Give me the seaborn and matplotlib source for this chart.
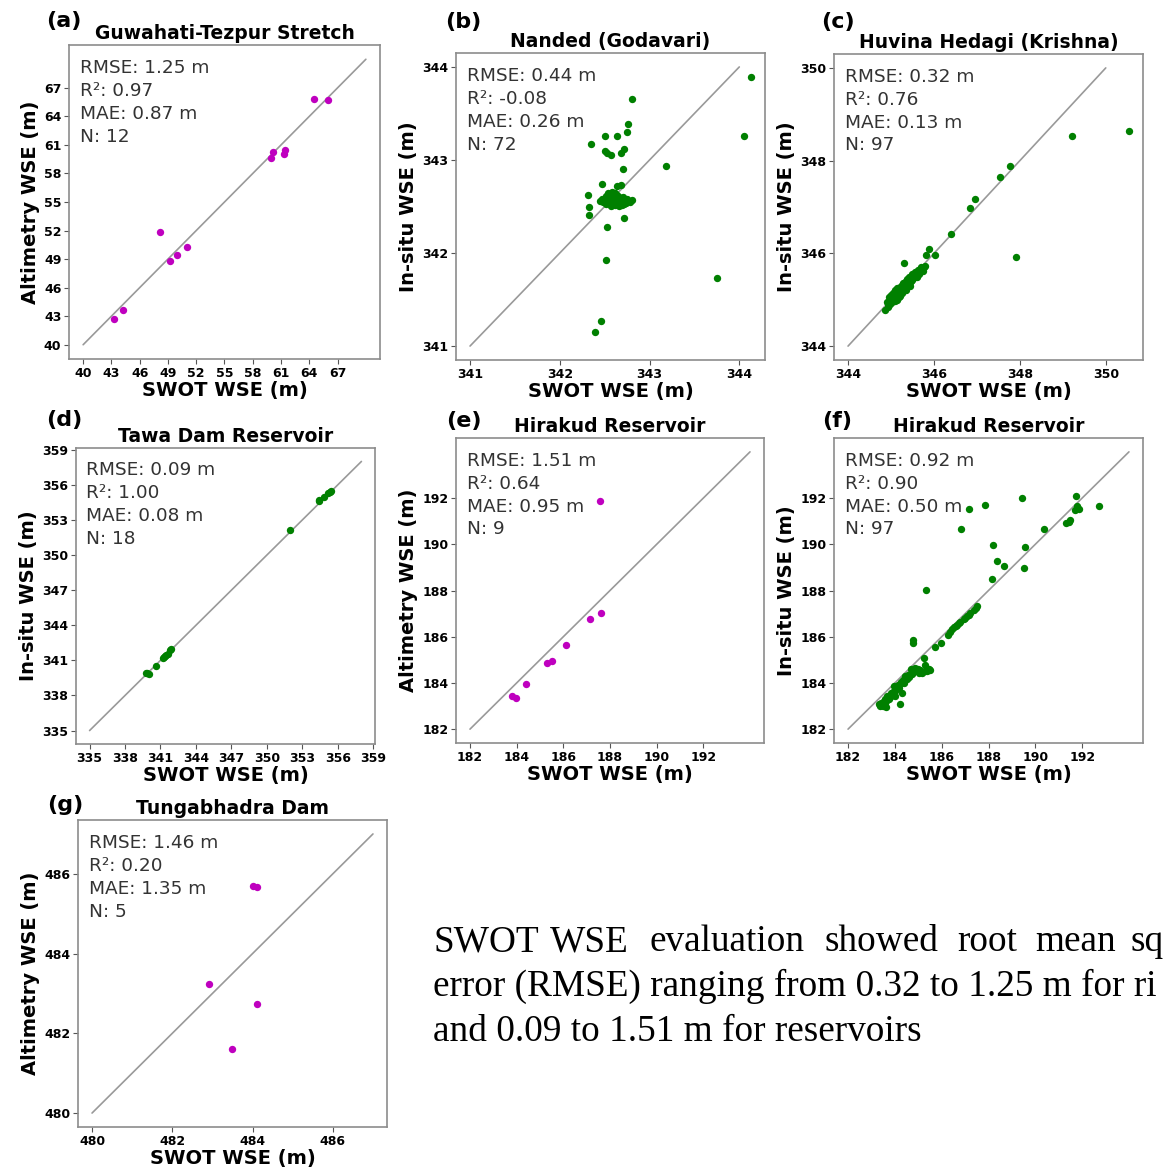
import numpy as np
import matplotlib
matplotlib.use("Agg")
import matplotlib.pyplot as plt
import seaborn as sns

# ---- data ----
# (a) Guwahati-Tezpur Stretch
a_x = [43.3, 44.2, 48.2, 49.2, 50.0, 51.0, 59.9, 60.1, 61.3, 61.4, 64.5, 66.0]
a_y = [42.7, 43.7, 51.8, 48.8, 49.4, 50.3, 59.6, 60.3, 60.0, 60.5, 65.8, 65.7]

# (b) Nanded (Godavari)
b_x = [342.35, 342.50, 342.64, 342.75, 342.76, 342.80, 342.50, 342.53, 342.57, 342.68,
       342.71, 342.70, 343.18, 344.13, 344.05, 343.75, 342.46, 342.39, 342.52, 342.53,
       342.72, 342.31, 342.33, 342.32, 342.47, 342.64, 342.68,
       342.45, 342.48, 342.50, 342.52, 342.53, 342.55, 342.56, 342.57, 342.58, 342.59,
       342.60, 342.61, 342.62, 342.63, 342.64, 342.65, 342.66, 342.67, 342.68, 342.69,
       342.70, 342.72, 342.74, 342.76, 342.80, 342.54, 342.58, 342.62, 342.51, 342.57,
       342.61, 342.66, 342.71, 342.55, 342.60, 342.64, 342.53, 342.59, 342.63, 342.67,
       342.70, 342.47, 342.52, 342.75, 342.78]
b_y = [343.17, 343.26, 343.26, 343.30, 343.39, 343.66, 343.10, 343.08, 343.05, 343.07,
       343.12, 342.90, 342.93, 343.89, 343.26, 341.73, 341.27, 341.15, 341.92, 342.28,
       342.38, 342.62, 342.50, 342.41, 342.74, 342.72, 342.73,
       342.56, 342.55, 342.58, 342.54, 342.60, 342.57, 342.62, 342.55, 342.59, 342.53,
       342.57, 342.61, 342.55, 342.58, 342.53, 342.56, 342.60, 342.54, 342.57, 342.52,
       342.55, 342.56, 342.54, 342.56, 342.57, 342.65, 342.66, 342.64, 342.53, 342.51,
       342.52, 342.51, 342.53, 342.63, 342.64, 342.62, 342.56, 342.60, 342.56, 342.58,
       342.60, 342.58, 342.61, 342.58, 342.55]

# (c) Huvina Hedagi (Krishna)
c_x = [350.54, 349.22, 347.92, 347.76, 347.53, 346.96, 346.83, 346.39, 345.88, 346.02,
       345.82, 345.30,
       344.87, 344.90, 344.92, 344.95, 344.97, 345.00, 345.02, 345.04, 345.06, 345.08,
       345.10, 345.12, 345.14, 345.16, 345.18, 345.20, 345.22, 345.24, 345.26, 345.28,
       345.30, 345.32, 345.34, 345.36, 345.38, 345.40, 345.42, 345.45, 345.48, 345.50,
       345.53, 345.56, 345.60, 345.63, 345.66, 345.70, 345.74, 345.78,
       344.94, 344.99, 345.03, 345.07, 345.11, 345.15, 345.19, 345.23, 345.27, 345.31,
       345.35, 345.39, 345.43, 345.47, 345.52, 345.57, 345.62, 345.68, 345.05, 345.13,
       345.21, 345.29, 345.37, 345.45, 345.09, 345.17, 345.25, 345.33, 345.41, 345.01,
       344.96, 345.55, 345.65, 345.72, 345.76, 345.26, 345.18, 345.10, 345.34, 345.44,
       345.58, 345.22, 345.30, 345.46, 345.38, 345.50, 345.14]
c_y = [348.65, 348.54, 345.92, 347.88, 347.64, 347.17, 346.97, 346.41, 346.09, 345.96,
       345.96, 345.80,
       344.78, 344.95, 344.85, 345.05, 344.92, 345.10, 344.98, 345.15, 345.02, 345.12,
       345.20, 345.08, 345.25, 345.10, 345.18, 345.28, 345.12, 345.22, 345.30, 345.18,
       345.35, 345.25, 345.40, 345.30, 345.45, 345.35, 345.50, 345.42, 345.55, 345.45,
       345.52, 345.60, 345.50, 345.65, 345.58, 345.70, 345.62, 345.72,
       344.90, 344.93, 345.00, 345.03, 345.05, 345.10, 345.15, 345.17, 345.20, 345.26,
       345.28, 345.32, 345.36, 345.40, 345.47, 345.50, 345.57, 345.63, 345.12, 345.00,
       345.08, 345.35, 345.40, 345.30, 344.98, 345.22, 345.15, 345.22, 345.33, 345.05,
       344.88, 345.48, 345.55, 345.68, 345.70, 345.32, 345.06, 345.15, 345.20, 345.38,
       345.52, 345.18, 345.24, 345.44, 345.34, 345.42, 345.18]

# (d) Tawa Dam Reservoir
d_x = [339.9, 340.6, 341.2, 341.4, 341.6, 341.8, 341.85, 351.95, 354.4, 354.8, 355.2,
       355.4, 339.8, 340.0, 341.3, 341.5, 354.45, 355.3]
d_y = [339.9, 340.5, 341.2, 341.35, 341.55, 341.85, 342.0, 352.15, 354.6, 354.95, 355.3,
       355.5, 339.95, 339.85, 341.25, 341.45, 354.7, 355.4]

# (e) Hirakud Reservoir (altimetry)
e_x = [183.79, 183.97, 184.41, 185.28, 185.52, 186.11, 187.15, 187.61, 187.55]
e_y = [183.43, 183.33, 183.97, 184.87, 184.97, 185.63, 186.76, 187.02, 191.89]

# (f) Hirakud Reservoir (in-situ)
f_x = [192.74, 191.79, 191.72, 191.86, 191.69, 191.43, 191.33, 191.50, 189.41, 187.83,
       187.17, 186.83, 190.35, 188.18, 189.55, 188.35, 188.67, 189.52, 188.15, 185.33,
       184.79, 184.79, 185.23, 185.28, 185.38, 184.24, 184.31,
       185.73, 185.95, 186.26, 186.37, 186.52, 186.66, 186.80, 186.94, 187.09, 187.23,
       187.37, 187.51,
       183.45, 183.38, 183.60, 183.74, 183.88, 184.02, 184.17, 184.38, 184.52, 184.74,
       184.95, 185.09, 184.88, 184.59, 183.81, 183.67, 183.52, 183.31, 183.62, 184.02,
       184.45, 185.16, 184.71, 183.97, 185.48,
       183.35, 183.40, 183.48, 183.55, 183.58, 183.65, 183.70, 183.78, 183.85, 183.92,
       184.00, 184.08, 184.12, 184.20, 184.28, 184.35, 184.42, 184.50, 184.58, 184.65,
       184.72, 184.80, 184.90, 185.00, 185.05, 185.30, 185.45, 186.45, 186.60, 186.75,
       187.00, 187.15, 187.45]
f_y = [191.66, 191.66, 192.09, 191.54, 191.47, 190.97, 190.91, 191.04, 192.00, 191.71,
       191.54, 190.68, 190.68, 189.99, 189.88, 189.27, 189.07, 188.99, 188.50, 188.03,
       185.87, 185.73, 185.08, 184.77, 184.51, 183.08, 183.58,
       185.56, 185.73, 186.09, 186.20, 186.42, 186.52, 186.62, 186.76, 186.88, 187.02,
       187.17, 187.31,
       183.08, 183.00, 183.15, 183.29, 183.51, 183.65, 183.79, 184.01, 184.15, 184.37,
       184.51, 184.58, 184.65, 184.25, 183.37, 183.43, 183.22, 183.10, 182.96, 183.43,
       184.30, 184.44, 184.61, 183.85, 184.54,
       183.05, 183.12, 183.02, 183.18, 183.30, 183.25, 183.40, 183.45, 183.55, 183.60,
       183.72, 183.80, 183.90, 183.95, 184.05, 184.12, 184.20, 184.28, 184.35, 184.40,
       184.45, 184.50, 184.55, 184.60, 184.45, 184.50, 184.62, 186.35, 186.48, 186.58,
       186.82, 186.95, 187.25]

# (g) Tungabhadra Dam
g_x = [482.92, 483.48, 484.12, 484.02, 484.12]
g_y = [483.23, 481.60, 482.74, 485.70, 485.67]

letters = ["(a)", "(b)", "(c)", "(d)", "(e)", "(f)", "(g)"]
titles = ["Guwahati-Tezpur Stretch", "Nanded (Godavari)", "Huvina Hedagi (Krishna)",
          "Tawa Dam Reservoir", "Hirakud Reservoir", "Hirakud Reservoir", "Tungabhadra Dam"]
ylabels = ["Altimetry WSE (m)", "In-situ WSE (m)", "In-situ WSE (m)", "In-situ WSE (m)",
           "Altimetry WSE (m)", "In-situ WSE (m)", "Altimetry WSE (m)"]
rmse = ["1.25", "0.44", "0.32", "0.09", "1.51", "0.92", "1.46"]
r2 = ["0.97", "-0.08", "0.76", "1.00", "0.64", "0.90", "0.20"]
mae = ["0.87", "0.26", "0.13", "0.08", "0.95", "0.50", "1.35"]
line_ends = [(40, 70), (341, 344), (344, 350), (335, 358), (182, 194), (182, 194), (480, 487)]
ticks = [list(range(40, 68, 3)), [341, 342, 343, 344], [344, 346, 348, 350],
         list(range(335, 360, 3)), list(range(182, 193, 2)), list(range(182, 193, 2)),
         [480, 482, 484, 486]]
xs = [a_x, b_x, c_x, d_x, e_x, f_x, g_x]
ys = [a_y, b_y, c_y, d_y, e_y, f_y, g_y]
MAGENTA, GREEN = "#BF00BF", "#008000"
colors = [MAGENTA, GREEN, GREEN, GREEN, MAGENTA, GREEN, MAGENTA]

# the caption is cut at the right edge in the reference; keep what is visible
summary_line1 = ["SWOT", "WSE", "evaluation", "showed", "root", "mean", "sq"]
summary_rest = ["error (RMSE) ranging from 0.32 to 1.25 m for ri",
                "and 0.09 to 1.51 m for reservoirs"]

# ---- layout (pixel boxes: left, top, right, bottom) ----
W, H = 1165, 1174
boxes = [(69, 45, 380, 359), (456, 53, 765, 360), (834, 54, 1143, 360),
         (76, 448, 375, 744), (456, 438, 764, 743), (834, 438, 1143, 743),
         (78, 820, 387, 1127)]
letter_pos = [(64, 21), (463, 22), (838, 22), (64, 420), (464, 421), (837, 421), (65, 805)]

sns.set_theme(style="ticks")
plt.rcParams["font.family"] = ["DejaVu Sans"]
plt.rcParams["text.color"] = "black"
plt.rcParams["axes.labelcolor"] = "black"
plt.rcParams["xtick.labelcolor"] = "black"
plt.rcParams["ytick.labelcolor"] = "black"

fig = plt.figure(figsize=(W / 100, H / 100), dpi=100)

for i in range(7):
    l, t, r, b = boxes[i]
    ax = fig.add_axes([l / W, 1 - b / H, (r - l) / W, (b - t) / H])
    lo, hi = line_ends[i]
    ax.plot([lo, hi], [lo, hi], color="gray", lw=1.2, alpha=0.8, zorder=1)
    sns.scatterplot(x=xs[i], y=ys[i], ax=ax, color=colors[i], s=28, linewidth=0, zorder=2)
    ax.set_xticks(ticks[i])
    ax.set_yticks(ticks[i])
    ax.tick_params(labelsize=9, length=3.5, width=0.8, color="#555555", pad=2)
    for lab in ax.get_xticklabels() + ax.get_yticklabels():
        lab.set_fontweight("bold")
    for sp in ax.spines.values():
        sp.set_color("#8c8c8c")
        sp.set_linewidth(1.2)
    ax.set_xlabel("SWOT WSE (m)", fontsize=14, fontweight="bold", labelpad=1)
    ax.set_ylabel(ylabels[i], fontsize=14, fontweight="bold", labelpad=3)
    ax.set_title(titles[i], fontsize=13.5, fontweight="bold", pad=4)
    stats = f"RMSE: {rmse[i]} m\nR²: {r2[i]}\nMAE: {mae[i]} m\nN: {len(xs[i])}"
    ax.text(0.035, 0.955, stats, transform=ax.transAxes, ha="left", va="top",
            fontsize=13.3, color="#333333", linespacing=1.35)
    lx, ly = letter_pos[i]
    fig.text(lx / W, 1 - ly / H, letters[i], ha="center", va="center",
             fontsize=16, fontweight="bold")

# caption text (first line justified across the width)
word_x = [433, 550, 650, 825, 957, 1035, 1130]
for wx, word in zip(word_x, summary_line1):
    fig.text(wx / W, 1 - 951 / H, word, ha="left", va="baseline",
             fontsize=26.8, family=["Liberation Serif", "DejaVu Serif"])
for k, line in enumerate(summary_rest):
    fig.text(433 / W, 1 - (996 + 45 * k) / H, line, ha="left", va="baseline",
             fontsize=26.8, family=["Liberation Serif", "DejaVu Serif"])

fig.savefig("out.png", dpi=100)
